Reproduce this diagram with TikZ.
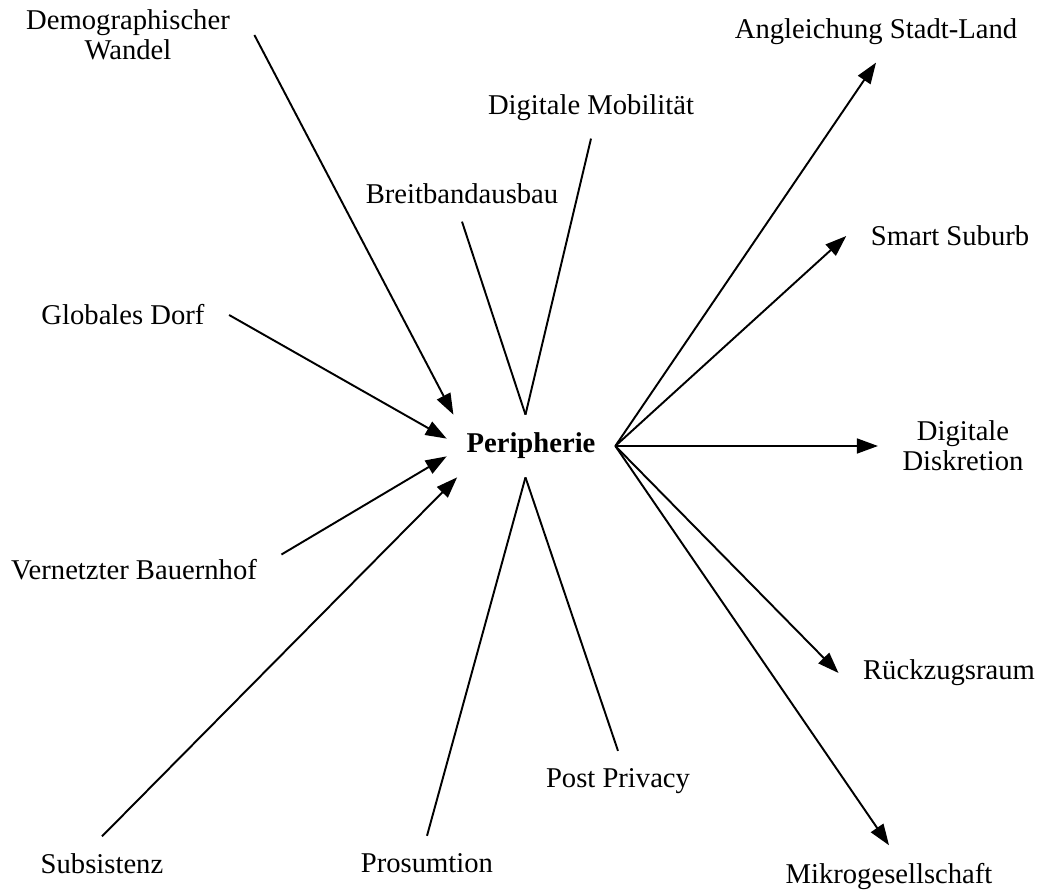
\documentclass[tikz,border=0pt]{standalone}
\usepackage{fontspec}
\setmainfont{Liberation Serif}
\usepackage{tikz}
\usetikzlibrary{arrows.meta}

\begin{document}
\begin{tikzpicture}[
  x=0.02cm, y=-0.02cm,
  lbl/.style={inner xsep=6pt, inner ysep=2pt, outer sep=8pt, align=center,
              font=\fontsize{16.3}{17}\selectfont},
  hub/.style={minimum width=3.36cm, minimum height=1.24cm, inner sep=0pt,
              font=\fontsize{16.3}{17}\selectfont\bfseries},
  ln/.style={draw=black, line width=1.1pt},
  arr/.style={ln, -{Triangle[length=12pt,width=8.5pt]}}
]
  \useasboundingbox (0,0) rectangle (1043,891);

  %% centre
  \node[hub] (peri) at (531,446) {Peripherie};

  %% incoming
  \node[lbl] (demo)  at (128,35)  {Demographischer\\Wandel};
  \node[lbl] (dorf)  at (123,315) {Globales Dorf};
  \node[lbl] (bauer) at (134,570) {Vernetzter Bauernhof};
  \node[lbl] (subs)  at (102,864) {Subsistenz};
  \draw[arr] (demo.east)  -- (peri.158);
  \draw[arr] (dorf.east)  -- (peri.175);
  \draw[arr] (bauer.6)    -- (peri.187);
  \draw[arr] (subs.north) -- (peri.203);

  %% plain lines
  \node[lbl] (breit)   at (462,194) {Breitbandausbau};
  \node[lbl] (mobil)   at (591,108) {Digitale Mobilität};
  \node[lbl] (prosum)  at (427,863) {Prosumtion};
  \node[lbl] (privacy) at (618,781) {Post Privacy};
  \draw[ln] (breit.south)   -- (peri.100);
  \draw[ln] (mobil.south)   -- (peri.100);
  \draw[ln] (prosum.north)  -- (peri.260);
  \draw[ln] (privacy.north) -- (peri.260);

  %% outgoing
  \node[lbl] (angl)  at (876,32)  {Angleichung Stadt-Land};
  \node[lbl] (smart) at (950,236) {Smart Suburb};
  \node[lbl] (diskr) at (963,446) {Digitale\\Diskretion};
  \node[lbl] (rueck) at (949,673) {Rückzugsraum};
  \node[lbl] (mikro) at (889,876) {Mikrogesellschaft};
  \draw[arr] (peri.east) -- (angl.south);
  \draw[arr] (peri.east) -- (smart.west);
  \draw[arr] (peri.east) -- (diskr.west);
  \draw[arr] (peri.east) -- (rueck.west);
  \draw[arr] (peri.east) -- (mikro.north);
\end{tikzpicture}
\end{document}
